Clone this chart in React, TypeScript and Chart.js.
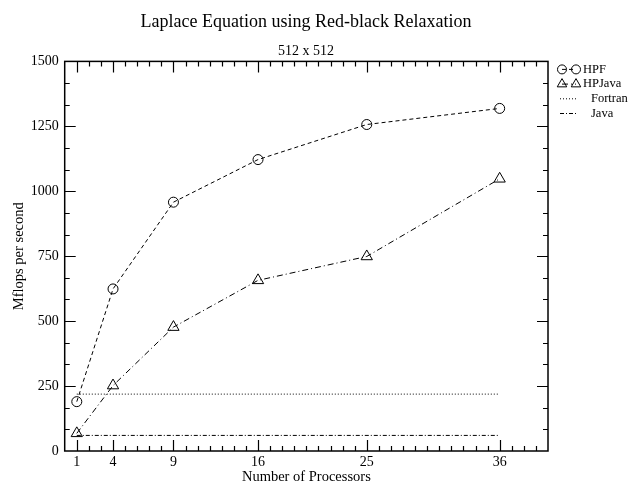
import React, { useEffect, useRef } from "react";
import { Chart, registerables } from "chart.js";

Chart.register(...registerables);

const processors = [1, 4, 9, 16, 25, 36];
const hpf = [190, 624, 958, 1122, 1257, 1319];
const hpjava = [68, 252, 477, 657, 749, 1048];
const fortranValue = 219;
const javaValue = 60;
const xMajorTicks = [1, 4, 9, 16, 25, 36];
const yMajorTicks = [0, 250, 500, 750, 1000, 1250, 1500];

const FONT = "'Liberation Serif', 'Times New Roman', serif";

const seriesStyles = [
  { label: "HPF", dash: [4, 3], marker: "circle" },
  { label: "HPJava", dash: [6, 3, 1, 3], marker: "triangle" },
  { label: "Fortran", dash: [1, 2], marker: "" },
  { label: "Java", dash: [4, 2, 1, 2], marker: "" },
];

function drawMarker(ctx: CanvasRenderingContext2D, kind: string, x: number, y: number, r: number) {
  ctx.beginPath();
  if (kind === "circle") {
    ctx.arc(x, y, r, 0, Math.PI * 2);
  } else if (kind === "triangle") {
    ctx.moveTo(x, y - r);
    ctx.lineTo(x + r * 0.866, y + r * 0.5);
    ctx.lineTo(x - r * 0.866, y + r * 0.5);
    ctx.closePath();
  }
  ctx.stroke();
}

const frameAndLegend = {
  id: "frameAndLegend",
  afterDraw(chart: any) {
    const { ctx, chartArea: a, scales } = chart;
    const xs = scales.x;
    const ys = scales.y;
    ctx.save();
    ctx.strokeStyle = "#000";
    ctx.lineWidth = 1.5;
    ctx.setLineDash([]);
    ctx.strokeRect(a.left, a.top, a.right - a.left, a.bottom - a.top);
    ctx.lineWidth = 1.2;
    for (let v = 1; v < xs.max; v++) {
      const px = Math.round(xs.getPixelForValue(v)) + 0.5;
      const len = xMajorTicks.includes(v) ? 11 : 5;
      ctx.beginPath();
      ctx.moveTo(px, a.bottom);
      ctx.lineTo(px, a.bottom - len);
      ctx.moveTo(px, a.top);
      ctx.lineTo(px, a.top + len);
      ctx.stroke();
    }
    for (let i = 1; i < 18; i++) {
      const v = (i * 250) / 3;
      const py = Math.round(ys.getPixelForValue(v)) + 0.5;
      const len = i % 3 === 0 ? 11 : 5;
      ctx.beginPath();
      ctx.moveTo(a.left, py);
      ctx.lineTo(a.left + len, py);
      ctx.moveTo(a.right, py);
      ctx.lineTo(a.right - len, py);
      ctx.stroke();
    }
    // legend
    const lx0 = a.right + 9;
    const lx1 = a.right + 33;
    let ly = a.top + 8;
    ctx.font = `12.5px ${FONT}`;
    ctx.fillStyle = "#000";
    ctx.textBaseline = "middle";
    ctx.textAlign = "left";
    for (const s of seriesStyles) {
      ctx.lineWidth = 1;
      ctx.setLineDash(s.dash);
      ctx.beginPath();
      if (s.marker) {
        ctx.moveTo(lx0 + 5, ly);
        ctx.lineTo(lx1 - 5, ly);
      } else {
        ctx.moveTo(lx0 + 3, ly);
        ctx.lineTo(lx1 - 4, ly);
      }
      ctx.stroke();
      ctx.setLineDash([]);
      if (s.marker) {
        const r = s.marker === "circle" ? 4.5 : 5.5;
        drawMarker(ctx, s.marker, lx0 + 5, ly, r);
        drawMarker(ctx, s.marker, lx1 - 5, ly, r);
      }
      ctx.fillText(s.label, s.marker ? a.right + 35 : a.right + 43, ly);
      ly += 14.7;
    }
    ctx.restore();
  },
};

export default function App() {
  const canvasRef = useRef<HTMLCanvasElement | null>(null);

  useEffect(() => {
    document.body.style.margin = "0";
    const canvas = canvasRef.current;
    if (!canvas) return;
    const chart = new Chart(canvas, {
      type: "line",
      data: {
        datasets: [
          {
            label: "HPF",
            data: processors.map((p, i) => ({ x: p, y: hpf[i] })),
            borderColor: "#000",
            borderWidth: 1,
            borderDash: seriesStyles[0].dash,
            pointStyle: "circle",
            pointRadius: 5,
            pointBorderWidth: 1,
            pointBorderColor: "#000",
            pointBackgroundColor: "rgba(0,0,0,0)",
            tension: 0,
          },
          {
            label: "HPJava",
            data: processors.map((p, i) => ({ x: p, y: hpjava[i] })),
            borderColor: "#000",
            borderWidth: 1,
            borderDash: seriesStyles[1].dash,
            pointStyle: "triangle",
            pointRadius: 6.5,
            pointBorderWidth: 1,
            pointBorderColor: "#000",
            pointBackgroundColor: "rgba(0,0,0,0)",
            tension: 0,
          },
          {
            label: "Fortran",
            data: [
              { x: processors[0], y: fortranValue },
              { x: processors[processors.length - 1], y: fortranValue },
            ],
            borderColor: "#000",
            borderWidth: 1,
            borderDash: seriesStyles[2].dash,
            pointRadius: 0,
          },
          {
            label: "Java",
            data: [
              { x: processors[0], y: javaValue },
              { x: processors[processors.length - 1], y: javaValue },
            ],
            borderColor: "#000",
            borderWidth: 1,
            borderDash: seriesStyles[3].dash,
            pointRadius: 0,
          },
        ],
      },
      options: {
        animation: false,
        responsive: false,
        maintainAspectRatio: false,
        layout: { padding: { left: 0, right: 27, top: 0, bottom: 0 } },
        plugins: {
          legend: { display: false },
          tooltip: { enabled: false },
          title: {
            display: true,
            text: "Laplace Equation using Red-black Relaxation",
            color: "#000",
            font: { family: FONT, size: 18, weight: "normal" },
            padding: { top: 11.5, bottom: 9.5 },
          },
          subtitle: {
            display: true,
            text: "512 x 512",
            color: "#000",
            font: { family: FONT, size: 14, weight: "normal" },
            padding: { top: 0, bottom: 2 },
          },
        },
        scales: {
          x: {
            type: "linear",
            min: 0,
            max: 40,
            afterBuildTicks: (scale: any) => {
              scale.ticks = xMajorTicks.map((v) => ({ value: v }));
            },
            afterFit: (scale: any) => {
              scale.height = 36;
            },
            grid: { display: false, drawTicks: false },
            border: { display: false },
            ticks: {
              color: "#000",
              font: { family: FONT, size: 14 },
              padding: 3,
              maxRotation: 0,
              autoSkip: false,
            },
            title: {
              display: true,
              text: "Number of Processors",
              color: "#000",
              font: { family: FONT, size: 14.5 },
              padding: { top: 0, bottom: 1 },
            },
          },
          y: {
            type: "linear",
            min: 0,
            max: 1500,
            afterBuildTicks: (scale: any) => {
              scale.ticks = yMajorTicks.map((v) => ({ value: v }));
            },
            afterFit: (scale: any) => {
              scale.width = 64.7;
            },
            grid: { display: false, drawTicks: false },
            border: { display: false },
            ticks: {
              color: "#000",
              font: { family: FONT, size: 14 },
              padding: 6,
              callback: (v: any) => String(v),
            },
            title: {
              display: true,
              text: "Mflops per second",
              color: "#000",
              font: { family: FONT, size: 14.5 },
              padding: { top: 10, bottom: 0 },
            },
          },
          legendSpace: {
            type: "linear",
            position: "right",
            display: true,
            afterFit: (scale: any) => {
              scale.width = 64;
            },
            grid: { display: false, drawTicks: false },
            border: { display: false },
            ticks: { display: false },
          },
        },
      },
      plugins: [frameAndLegend],
    } as any);
    return () => chart.destroy();
  }, []);

  return (
    <div style={{ position: "absolute", left: 0, top: 0, width: 639, height: 487 }}>
      <canvas ref={canvasRef} width={639} height={487} style={{ width: 639, height: 487, display: "block" }} />
    </div>
  );
}
